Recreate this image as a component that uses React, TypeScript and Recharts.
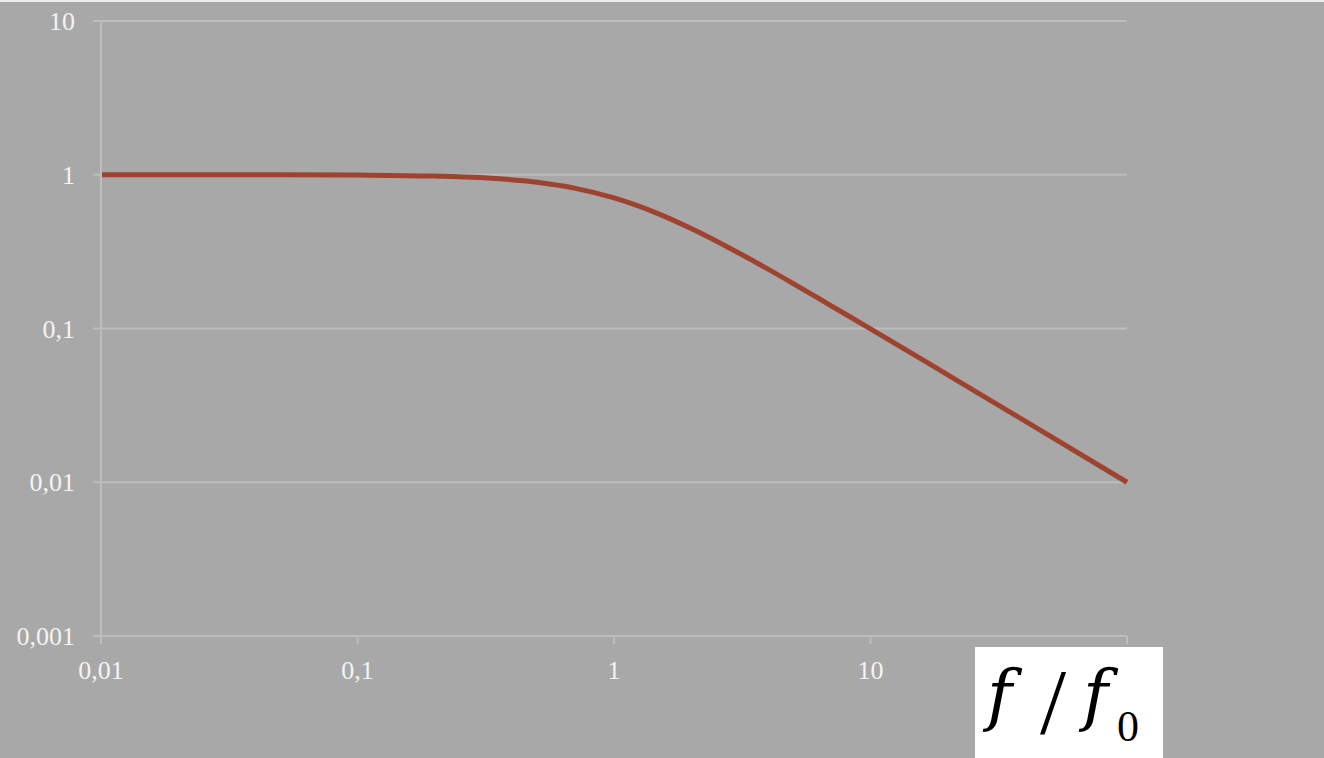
import React from 'react';
import { LineChart, Line, XAxis, YAxis, CartesianGrid } from 'recharts';

// frequency ratio f/f0 and amplitude
const freq = [0.01, 0.02, 0.05, 0.1, 0.2, 0.3, 0.5, 0.7, 1, 1.5, 2, 3, 5, 7, 10, 20, 50, 100];
const gain = [1, 1, 1, 0.995, 0.98, 0.958, 0.894, 0.819, 0.707, 0.555, 0.447, 0.316, 0.196, 0.141, 0.0995, 0.05, 0.02, 0.01];

const xTicks = [0.01, 0.1, 1, 10, 100];
const yTicks = [0.001, 0.01, 0.1, 1, 10];

const data = freq.map((f, i) => ({ f, g: gain[i] }));

const fmt = (v: number) => String(v).replace('.', ',');

const tickStyle = { fill: '#f4f4f4', fontSize: 26, fontFamily: '"Liberation Serif", serif' };
const grid = '#bdbdbd';

const App: React.FC = () => {
  return (
    <div
      style={{
        position: 'fixed',
        left: 0,
        top: 0,
        width: 1324,
        height: 758,
        background: '#a8a8a8',
        overflow: 'hidden',
      }}
    >
      <div style={{ position: 'absolute', left: 0, top: 0, width: 1324, height: 2, background: '#ececec' }} />
      <div style={{ position: 'absolute', left: 0, top: 0 }}>
        <LineChart width={1324} height={758} data={data} margin={{ top: 21, right: 197, bottom: 92, left: 0 }}>
          <CartesianGrid stroke={grid} strokeWidth={2} vertical={false} />
          <XAxis
            dataKey="f"
            type="number"
            scale="log"
            domain={[0.01, 100]}
            ticks={xTicks}
            tickFormatter={fmt}
            height={30}
            stroke={grid}
            strokeWidth={2}
            tickSize={8}
            tickMargin={17}
            tick={tickStyle}
            interval={0}
          />
          <YAxis
            type="number"
            scale="log"
            domain={[0.001, 10]}
            ticks={yTicks}
            tickFormatter={fmt}
            width={101}
            stroke={grid}
            strokeWidth={2}
            tickSize={8}
            tickMargin={18}
            tick={tickStyle}
            interval={0}
            allowDataOverflow
          />
          <Line
            dataKey="g"
            type="monotone"
            stroke="#9e432f"
            strokeWidth={5}
            dot={false}
            isAnimationActive={false}
          />
        </LineChart>
      </div>
      <div
        style={{
          position: 'absolute',
          left: 975,
          top: 647,
          width: 188,
          height: 111,
          background: '#ffffff',
          fontFamily: '"DejaVu Serif", serif',
          color: '#000',
          overflow: 'hidden',
        }}
      >
        <span style={{ position: 'absolute', left: 12, top: 14, fontSize: 68, lineHeight: 1, fontStyle: 'italic' }}>f</span>
        <span style={{ position: 'absolute', left: 65, top: 0, fontSize: 94, lineHeight: 'normal', fontFamily: '"Liberation Serif", serif' }}>/</span>
        <span style={{ position: 'absolute', left: 108, top: 14, fontSize: 68, lineHeight: 1, fontStyle: 'italic' }}>f</span>
        <span style={{ position: 'absolute', left: 142, top: 58, fontSize: 44, lineHeight: 1, fontFamily: '"Liberation Serif", serif' }}>0</span>
      </div>
    </div>
  );
};

export default App;
